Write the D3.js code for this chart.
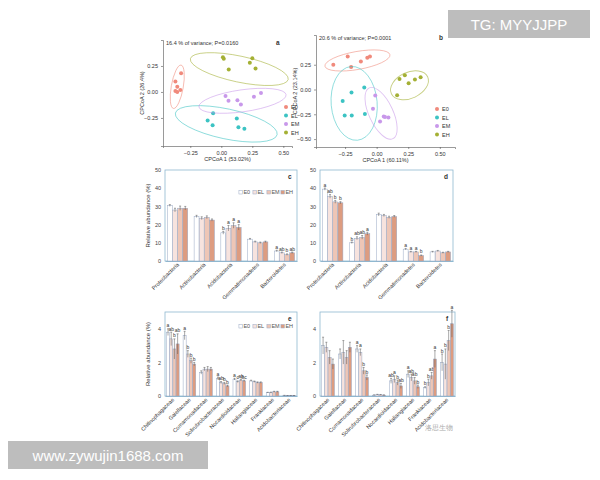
<!DOCTYPE html>
<html><head><meta charset="utf-8">
<script src="https://cdn.jsdelivr.net/npm/d3@7"></script>
<style>body{margin:0;background:#fff}svg{font-family:"Liberation Sans",Arial,sans-serif}</style>
</head><body><svg id="c" width="600" height="480"></svg>
<script>
const groups=["E0","EL","EM","EH"];
const groupColors=["#f08a7c","#3cc3c3","#c898ea","#a4b034"];
const barFills=["#ffffff","#f7e3de","#eec6b6","#dd9c80"];
// PCoA a
const pcoaA={E0:[[-0.324,0.18],[-0.37,0.10],[-0.355,0.05],[-0.37,0.01],[-0.33,0.02],[-0.355,0.0]],
EL:[[-0.066,-0.205],[-0.11,-0.275],[-0.07,-0.32],[0.125,-0.256],[0.138,-0.34],[0.186,-0.355]],
EM:[[0.034,-0.04],[0.058,-0.085],[0.13,-0.08],[0.158,-0.12],[0.263,-0.047],[0.32,-0.01]],
EH:[[0.013,0.335],[0.02,0.32],[0.06,0.215],[0.25,0.325],[0.23,0.28],[0.276,0.225]]};
const ellA={E0:[-0.355,0.05,6,22,10],EH:[0.145,0.22,50,13,12],EM:[0.171,-0.085,44,11,-8],EL:[0.04,-0.307,52,15,12]};
const pcoaB={E0:[[-0.343,0.25],[-0.229,0.333],[-0.202,0.227],[-0.125,0.283],[-0.074,0.32],[-0.053,0.333]],
EL:[[-0.269,-0.117],[-0.199,-0.03],[-0.098,0.02],[-0.253,-0.263],[-0.197,-0.263],[-0.093,-0.247]],
EM:[[-0.011,-0.06],[-0.029,-0.193],[0.027,-0.323],[0.056,-0.273],[0.066,-0.277],[0.093,-0.283]],
EH:[[0.162,-0.057],[0.181,0.107],[0.223,0.143],[0.253,0.063],[0.303,0.1],[0.348,0.123]]};
const ellB={E0:[-0.152,0.293,33,9,-10],EL:[-0.178,-0.14,23,37,-5],EM:[0.035,-0.24,12,28,-25],EH:[0.26,0.043,20,13,-25]};
// phyla
const phyla=["Proteobacteria","Actinobacteria","Acidobacteria","Gemmatimonadetes","Bacteroidetes"];
const cVals=[[30.5,28,29,29],[24.5,23.5,24,22.5],[15.5,18,19.5,18.5],[12,10.5,10,10.5],[5.5,4.5,3.5,4.5]];
const cErr=[[0.5,1,1.2,1],[0.6,0.8,0.8,0.6],[0.8,1.5,1.5,1.5],[0.4,0.4,0.4,0.4],[0.4,0.4,0.4,0.4]];
const cLet=[null,null,["b","a","a","a"],null,["a","ab","b","ab"]];
const dVals=[[39.5,35.5,32.5,32],[10,12.5,13,15],[25.5,25,24,24.5],[6.5,5,5,3],[5,5.5,4.5,5]];
const dErr=[[0.6,1,0.8,0.6],[0.4,0.8,1,0.8],[0.8,0.6,0.6,0.5],[0.4,0.3,0.3,0.3],[0.3,0.3,0.3,0.3]];
const dLet=[["a","ab","b","b"],["b","ab","ab","a"],null,["a","a","a","b"],null];
// families
const families=["Chitinophagaceae","Gaiellaceae","Comamonadaceae","Solirubrobacteraceae","Nocardioidaceae","Haliangiaceae","Frankiaceae","Acidobacteriaceae"];
const eVals=[[3.8,3.4,2.8,3.1],[3.6,2.5,2.1,1.9],[1.4,1.6,1.6,1.6],[1.05,0.8,0.75,0.6],[1.0,0.85,0.95,0.9],[0.9,0.85,0.8,0.8],[0.2,0.2,0.25,0.25],[0.03,0.02,0.02,0.02]];
const eErr=[[0.2,0.4,0.6,0.6],[0.25,0.2,0.15,0.1],[0.1,0.1,0.15,0.1],[0.08,0.06,0.06,0.05],[0.05,0.05,0.05,0.04],[0.04,0.04,0.04,0.04],[0.02,0.03,0.03,0.03],[0.01,0.01,0.01,0.01]];
const eLet=[["a","ab","b","ab"],["a","b","b","b"],null,["a","ab","b","b"],["a","c","ab","bc"],null,null,null];
const fVals=[[3.0,2.9,2.3,1.9],[2.5,2.6,2.3,2.9],[2.8,2.6,1.5,1.1],[0.05,0.08,0.07,0.05],[0.9,1.0,0.8,0.6],[1.3,1.1,0.9,0.55],[0.5,0.8,1.2,2.2],[2.0,1.9,3.3,4.3]];
const fErr=[[0.5,0.3,0.4,0.3],[0.3,0.7,0.4,0.3],[0.2,0.2,0.2,0.15],[0.02,0.02,0.02,0.02],[0.15,0.2,0.15,0.15],[0.2,0.2,0.2,0.1],[0.05,0.2,0.2,0.5],[0.5,0.9,0.6,0.8]];
const fLet=[null,null,["a","a","b","b"],null,["ab","a","b","ab"],["a","ab","ab","b"],["b","b","ab","a"],["b","b","b","a"]];

const svg=d3.select("#c");
const fs=5.5;
function style(g){g.selectAll("text").attr("font-size",fs).attr("fill","#333");g.selectAll("path,line").attr("stroke","#555").attr("stroke-width",0.6);}

function pcoa(data,ell,xr,yr,xd,yd,yticks,title,letter,legX,legY,xlab,ylab){
  const x=d3.scaleLinear().domain(xd).range(xr), y=d3.scaleLinear().domain(yd).range(yr);
  svg.append("g").attr("transform",`translate(0,${yr[0]})`).call(d3.axisBottom(x).tickValues([-0.25,0,0.25,0.5]).tickFormat(d3.format(".2f")).tickSize(2)).call(style);
  svg.append("g").attr("transform",`translate(${xr[0]},0)`).call(d3.axisLeft(y).tickValues(yticks).tickFormat(d3.format(".2f")).tickSize(2)).call(style);
  groups.forEach((g,i)=>{
    const e=ell[g];
    svg.append("ellipse").attr("cx",0).attr("cy",0).attr("rx",e[2]).attr("ry",e[3])
      .attr("transform",`translate(${x(e[0])},${y(e[1])}) rotate(${e[4]})`)
      .attr("fill","none").attr("stroke",groupColors[i]).attr("stroke-opacity",0.6).attr("stroke-width",0.9);
    svg.selectAll(null).data(data[g]).enter().append("circle").attr("cx",d=>x(d[0])).attr("cy",d=>y(d[1])).attr("r",2).attr("fill",groupColors[i]);
    svg.append("circle").attr("cx",legX).attr("cy",legY+i*8.5).attr("r",2).attr("fill",groupColors[i]);
    svg.append("text").attr("x",legX+5).attr("y",legY+i*8.5+2).attr("font-size",fs).attr("fill","#333").text(g);
  });
  svg.append("text").attr("x",xr[0]+3).attr("y",yr[1]+5).attr("font-size",fs).attr("fill","#333").text(title);
  svg.append("text").attr("x",xr[1]-16).attr("y",yr[1]+5).attr("font-size",6.5).attr("font-weight","bold").attr("fill","#333").text(letter);
  svg.append("text").attr("x",(xr[0]+xr[1])/2).attr("y",yr[0]+15).attr("text-anchor","middle").attr("font-size",fs).attr("fill","#333").text(xlab);
  svg.append("text").attr("transform",`translate(${xr[0]-19},${(yr[0]+yr[1])/2}) rotate(-90)`).attr("text-anchor","middle").attr("font-size",fs).attr("fill","#333").text(ylab);
}
pcoa(pcoaA,ellA,[163,292],[146,40],[-0.47,0.57],[-0.52,0.5],[-0.25,0,0.25],"16.4 % of variance; P=0.0160","a",286,107,"CPCoA 1 (53.02%)","CPCoA 2 (26.4%)");
pcoa(pcoaB,ellB,[316,455],[147,35],[-0.48,0.62],[-0.58,0.55],[-0.5,-0.25,0,0.25],"20.6 % of variance; P=0.0001","b",437,109,"CPCoA 1 (60.11%)","CPCoA 2 (23.14%)");

function bars(cats,vals,errs,lets,xr,yr,ymax,yticks,letter,legend,ylab,rot){
  const x=d3.scaleBand().domain(cats).range(xr).paddingInner(0.22).paddingOuter(0.08);
  const xi=d3.scaleBand().domain(groups).range([0,x.bandwidth()]).padding(0.05);
  const y=d3.scaleLinear().domain([0,ymax]).range(yr);
  svg.append("rect").attr("x",xr[0]).attr("y",yr[1]).attr("width",xr[1]-xr[0]).attr("height",yr[0]-yr[1]).attr("fill","none").attr("stroke","#8fb8d0").attr("stroke-width",0.8);
  const ax=svg.append("g").attr("transform",`translate(0,${yr[0]})`).call(d3.axisBottom(x).tickSize(0).tickPadding(3));
  ax.selectAll("text").attr("font-size",fs).attr("fill","#333").attr("text-anchor","end").attr("transform",`rotate(${rot})`).attr("dx","-0.3em").attr("dy","0.2em");
  ax.select("path").attr("stroke","#8fb8d0");
  svg.append("g").attr("transform",`translate(${xr[0]},0)`).call(d3.axisLeft(y).tickValues(yticks).tickFormat(d3.format("d")).tickSize(0).tickPadding(4)).call(g=>{g.select("path").remove();g.selectAll("text").attr("font-size",fs).attr("fill","#444");});
  cats.forEach((c,ci)=>groups.forEach((g,gi)=>{
    const bx=x(c)+xi(g), w=xi.bandwidth(), v=vals[ci][gi], e=errs[ci][gi];
    svg.append("rect").attr("x",bx).attr("y",y(v)).attr("width",w).attr("height",y(0)-y(v)).attr("fill",barFills[gi]).attr("stroke","#98a8c4").attr("stroke-width",0.5);
    const cx=bx+w/2;
    svg.append("line").attr("x1",cx).attr("x2",cx).attr("y1",y(v-e)).attr("y2",y(v+e)).attr("stroke","#555").attr("stroke-width",0.5);
    svg.append("line").attr("x1",cx-1).attr("x2",cx+1).attr("y1",y(v+e)).attr("y2",y(v+e)).attr("stroke","#555").attr("stroke-width",0.5);
    if(lets[ci]) svg.append("text").attr("x",cx).attr("y",y(v+e)-1.5).attr("text-anchor","middle").attr("font-size",5).attr("fill","#333").text(lets[ci][gi]);
  }));
  svg.append("text").attr("x",xr[1]-9).attr("y",yr[1]+9).attr("font-size",6.5).attr("font-weight","bold").attr("fill","#333").text(letter);
  if(legend){groups.forEach((g,i)=>{const lx=xr[0]+(xr[1]-xr[0])*0.56+i*14;
    svg.append("rect").attr("x",lx).attr("y",yr[1]+legend-3.5).attr("width",3.5).attr("height",3.5).attr("fill",barFills[i]).attr("stroke","#98a8c4").attr("stroke-width",0.5);
    svg.append("text").attr("x",lx+4.5).attr("y",yr[1]+legend).attr("font-size",fs).attr("fill","#555").text(g);});}
  if(ylab) svg.append("text").attr("transform",`translate(${xr[0]-15},${(yr[0]+yr[1])/2}) rotate(-90)`).attr("text-anchor","middle").attr("font-size",6).attr("fill","#333").text(ylab);
}
bars(phyla,cVals,cErr,cLet,[165,297],[261,170],50,[0,10,20,30,40,50],"c",24,"Relative abundance (%)",-45);
bars(phyla,dVals,dErr,dLet,[320,453],[261,170],50,[0,10,20,30,40,50],"d",0,null,-45);
bars(families,eVals,eErr,eLet,[165,297],[396,312],5,[0,2,4],"e",16,"Relative abundance (%)",-45);
bars(families,fVals,fErr,fLet,[320,455],[396,312],5,[0,2,4],"f",0,null,-45);

// watermarks
svg.append("rect").attr("x",448).attr("y",10).attr("width",142).attr("height",28).attr("fill","#bdbdbd");
svg.append("text").attr("x",519).attr("y",30).attr("text-anchor","middle").attr("font-size",15).attr("fill","#fff").text("TG: MYYJJPP");
svg.append("rect").attr("x",8).attr("y",441).attr("width",200).attr("height",28).attr("fill","#bdbdbd");
svg.append("text").attr("x",108).attr("y",461).attr("text-anchor","middle").attr("font-size",15).attr("fill","#fff").text("www.zywujin1688.com");
svg.append("text").attr("x",425).attr("y",430).attr("font-size",7).attr("fill","#aaa").text("洛思生物");
</script></body></html>
